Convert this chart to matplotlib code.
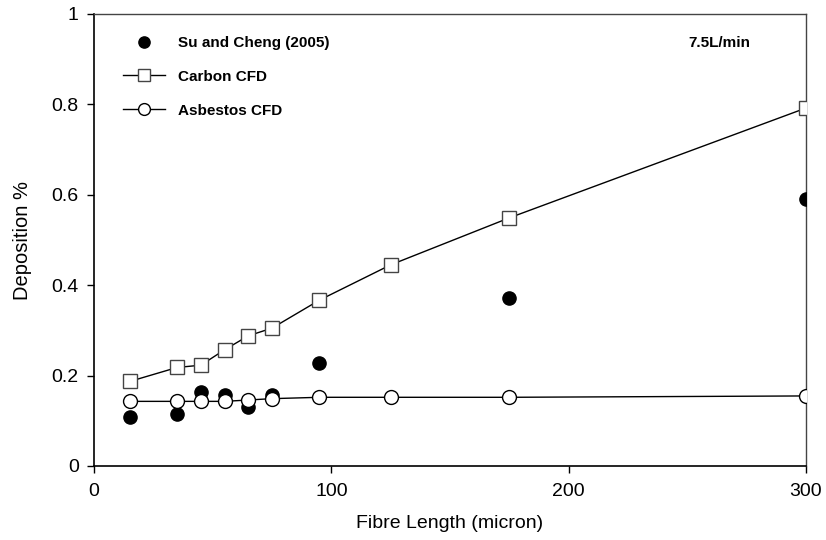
import matplotlib
matplotlib.use("Agg")
import matplotlib.pyplot as plt

plt.rcParams['font.family'] = ['Liberation Sans', 'DejaVu Sans']

# Fibre lengths (micron)
length = [15, 35, 45, 55, 65, 75, 95, 125, 175, 300]
# Experimental deposition (Su and Cheng 2005)
exp_len = [15, 35, 45, 55, 65, 75, 95, 175, 300]
exp_dep = [0.109, 0.116, 0.164, 0.157, 0.131, 0.156, 0.227, 0.372, 0.590]
# CFD deposition
carbon_dep = [0.187, 0.218, 0.223, 0.257, 0.288, 0.305, 0.367, 0.445, 0.549, 0.792]
asbestos_dep = [0.143, 0.143, 0.143, 0.143, 0.146, 0.149, 0.152, 0.152, 0.152, 0.155]

x_ticks = [0, 100, 200, 300]
y_ticks = [0, 0.2, 0.4, 0.6, 0.8, 1.0]
y_tick_labels = ['0', '0.2', '0.4', '0.6', '0.8', '1']

fig = plt.figure(figsize=(8.26, 5.40), dpi=100)
ax = fig.add_axes([94/826, 1 - 466/540, 712/826, 452/540])

ax.plot(exp_len, exp_dep, linestyle='none', marker='o', markersize=9.5,
        markerfacecolor='black', markeredgecolor='black',
        label='Su and Cheng (2005)', zorder=3)
ax.plot(length, carbon_dep, color='black', lw=1.0, marker='s', markersize=9.5,
        markerfacecolor='white', markeredgecolor='#444444', markeredgewidth=1.0,
        label='Carbon CFD', zorder=4)
ax.plot(length, asbestos_dep, color='black', lw=1.0, marker='o', markersize=10,
        markerfacecolor='white', markeredgecolor='black', markeredgewidth=1.0,
        label='Asbestos CFD', zorder=5)

ax.set_xlim(0, 300)
ax.set_ylim(0, 1)
ax.set_xticks(x_ticks)
ax.set_yticks(y_ticks)
ax.set_yticklabels(y_tick_labels)
ax.tick_params(direction='out', length=5, width=1, labelsize=14, color='black')
ax.tick_params(axis='x', pad=7)
ax.tick_params(axis='y', pad=6)
for side in ['left', 'bottom']:
    ax.spines[side].set_color('black')
    ax.spines[side].set_linewidth(1.2)
for side in ['top', 'right']:
    ax.spines[side].set_color('#444444')
    ax.spines[side].set_linewidth(1.0)

ax.set_xlabel('Fibre Length (micron)', fontsize=14, labelpad=11)
ax.set_ylabel('Deposition %', fontsize=14.5, labelpad=14)

leg = ax.legend(loc='upper left', bbox_to_anchor=(0.021, 0.982), frameon=False,
                prop={'weight': 'bold', 'size': 11}, handlelength=2.8,
                handletextpad=0.8, labelspacing=1.3, markerscale=0.85)

ax.text(0.835, 0.935, '7.5L/min', transform=ax.transAxes, fontsize=11,
        fontweight='bold', ha='left', va='center')

fig.savefig('out.png', dpi=100)
